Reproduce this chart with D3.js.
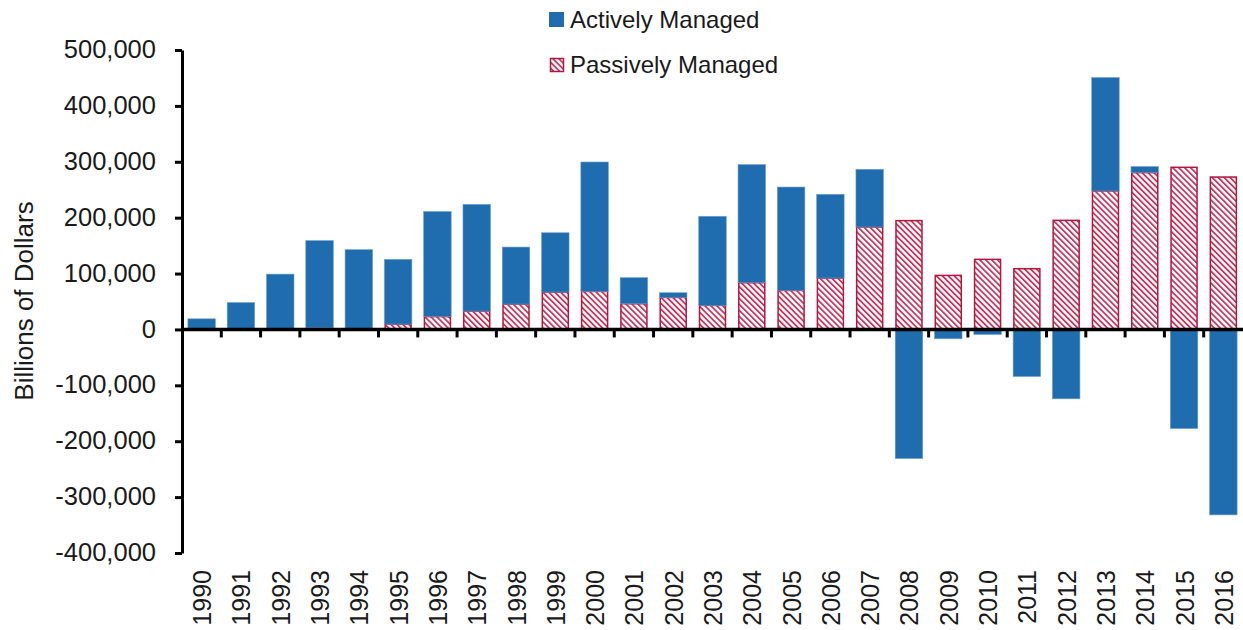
<!DOCTYPE html>
<html>
<head>
<meta charset="utf-8">
<script src="https://cdn.jsdelivr.net/npm/d3@7"></script>
<style>
  html, body { margin: 0; padding: 0; background: #fff; }
  svg { display: block; font-family: "Liberation Sans", Arial, sans-serif; }
</style>
</head>
<body>
<svg id="chart" width="1243" height="630"></svg>
<script>
const years = d3.range(1990, 2017).map(String);
// net flows, billions of dollars
const passive = [0, 0, 2000, 3000, 0, 9500, 23000, 32800, 45300, 66800, 68000, 46000, 57300, 43000, 83600,
  69800, 91900, 183200, 194700, 96700, 125400, 108700, 195200, 247700, 280600, 290100, 272700];
const active = [19000, 48000, 97000, 156000, 142700, 115900, 188000, 191000, 102100, 106200, 231600, 46600, 8400, 159400, 211300,
  185000, 149900, 103300, -231000, -16700, -9000, -84200, -124100, 203000, 10800, -177300, -331800];
const yTicks = d3.range(-400000, 500001, 100000);

const blue = "#1f6cae";
const crimson = "#b3173f";
const textColor = "#1a1a1a";

const svg = d3.select("#chart");
const width = 1243, height = 630;
const margin = { top: 50, right: 0, bottom: 77, left: 182 };

const x = d3.scaleBand()
  .domain(years)
  .range([margin.left, width - margin.right])
  .paddingInner(0.3)
  .paddingOuter(0.15);

const y = d3.scaleLinear()
  .domain([-400000, 500000])
  .range([553, 50]);

const step = x.step();
const fmt = v => d3.format(",")(v).replace("−", "-");

// hatch pattern for passive
const defs = svg.append("defs");
const pat = defs.append("pattern")
  .attr("id", "hatch")
  .attr("patternUnits", "userSpaceOnUse")
  .attr("width", 4.2)
  .attr("height", 4.2)
  .attr("patternTransform", "rotate(-45)");
pat.append("rect").attr("width", 4.2).attr("height", 4.2).attr("fill", "#fff");
pat.append("rect").attr("x", 0).attr("width", 1.8).attr("height", 4.2).attr("fill", "#c4385e");

// passive bars
svg.append("g")
  .selectAll("rect")
  .data(years.map((yr, i) => ({ yr, v: passive[i] })).filter(d => d.v > 0))
  .join("rect")
  .attr("x", d => x(d.yr) + 0.75)
  .attr("width", x.bandwidth() - 1.5)
  .attr("y", d => y(d.v))
  .attr("height", d => y(0) - y(d.v))
  .attr("fill", "url(#hatch)")
  .attr("stroke", crimson)
  .attr("stroke-width", 1.5);

// active bars (stacked over passive when positive)
svg.append("g")
  .selectAll("rect")
  .data(years.map((yr, i) => ({ yr, v: active[i], base: active[i] > 0 ? passive[i] : 0 })))
  .join("rect")
  .attr("x", d => x(d.yr))
  .attr("width", x.bandwidth())
  .attr("y", d => d.v > 0 ? y(d.base + d.v) : y(0))
  .attr("height", d => Math.abs(y(d.base + d.v) - y(d.base)))
  .attr("fill", blue)
  .attr("stroke", "#6d9fcf")
  .attr("stroke-width", 0.6);

// y axis
svg.append("g")
  .attr("transform", `translate(${margin.left},0)`)
  .call(d3.axisLeft(y).tickValues(yTicks).tickFormat(fmt).tickSize(7).tickSizeOuter(0))
  .call(g => g.select(".domain").attr("stroke", "#000").attr("stroke-width", 3))
  .call(g => g.selectAll(".tick line").attr("stroke", "#000").attr("stroke-width", 3))
  .call(g => g.selectAll(".tick text")
    .attr("x", -26)
    .attr("dy", "0.3em")
    .attr("fill", textColor)
    .style("font-size", "25.5px"));

// zero line + x ticks at band boundaries
svg.append("line")
  .attr("x1", margin.left).attr("x2", width)
  .attr("y1", y(0)).attr("y2", y(0))
  .attr("stroke", "#000").attr("stroke-width", 3.5);

svg.append("g")
  .selectAll("line")
  .data(years.slice(1))
  .join("line")
  .attr("x1", d => x(d) - step * 0.15)
  .attr("x2", d => x(d) - step * 0.15)
  .attr("y1", y(0))
  .attr("y2", y(0) + 8)
  .attr("stroke", "#000")
  .attr("stroke-width", 3);

// x labels
svg.append("g")
  .selectAll("text")
  .data(years)
  .join("text")
  .attr("transform", d => `translate(${x(d) + x.bandwidth() / 2 + 9.5},570) rotate(-90)`)
  .attr("text-anchor", "end")
  .attr("fill", textColor)
  .style("font-size", "25px")
  .text(d => d);

// y title
svg.append("text")
  .attr("transform", "translate(33,301) rotate(-90)")
  .attr("text-anchor", "middle")
  .attr("fill", textColor)
  .style("font-size", "26px")
  .text("Billions of Dollars");

// legend
const legend = svg.append("g");
legend.append("rect")
  .attr("x", 549).attr("y", 12).attr("width", 15).attr("height", 15)
  .attr("fill", blue);
legend.append("text")
  .attr("x", 570).attr("y", 27.5)
  .attr("fill", textColor)
  .style("font-size", "24px")
  .text("Actively Managed");
legend.append("rect")
  .attr("x", 550.5).attr("y", 58.5).attr("width", 13).attr("height", 13)
  .attr("fill", "url(#hatch)")
  .attr("stroke", crimson)
  .attr("stroke-width", 1.5);
legend.append("text")
  .attr("x", 570).attr("y", 72.5)
  .attr("fill", textColor)
  .style("font-size", "24px")
  .text("Passively Managed");
</script>
</body>
</html>
